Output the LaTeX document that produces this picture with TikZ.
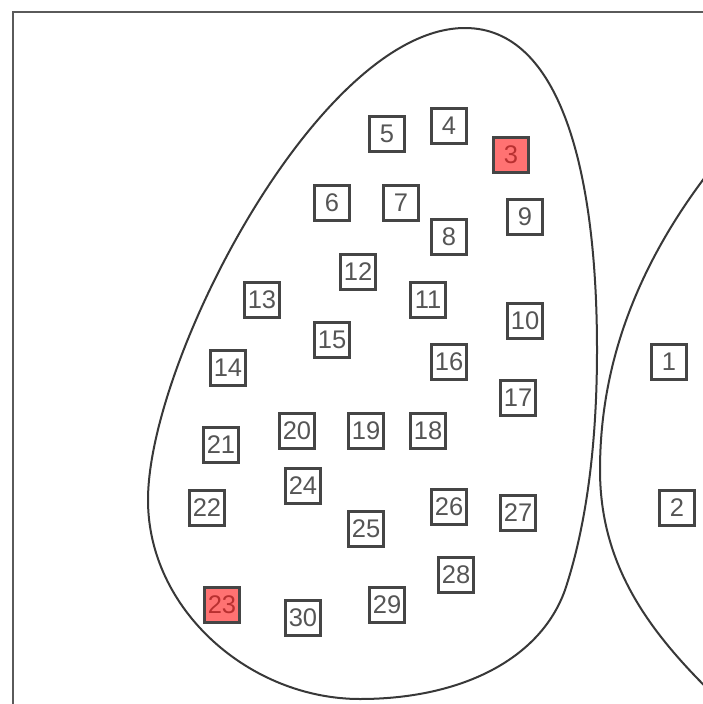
\documentclass[tikz,border=0pt]{standalone}
\usepackage{fontspec}
\setmainfont{Liberation Sans}
\definecolor{boxline}{HTML}{454545}
\definecolor{boxtext}{HTML}{555555}
\definecolor{blobline}{HTML}{383838}
\definecolor{frameline}{HTML}{5A5A5A}
\definecolor{redfill}{HTML}{FF7272}
\definecolor{redtext}{HTML}{B83030}
\tikzset{
  nbox/.style={draw=boxline, line width=2.2pt, fill=white, text=boxtext,
    minimum width=35pt, minimum height=35pt, inner sep=0pt,
    font=\fontsize{25.5}{25.5}\selectfont},
  redbox/.style={nbox, fill=redfill, text=redtext},
  blob/.style={draw=blobline, line width=2pt}
}
\begin{document}
\begin{tikzpicture}[x=1pt,y=-1pt]
\useasboundingbox (0,0) rectangle (703,704);
\clip (0,0) rectangle (703,704);
\fill[white] (0,0) rectangle (703,704);
% frame
\draw[frameline, line width=2.5pt] (13,12) rectangle (780,780);
% left blob
\draw[blob] (465,28) .. controls (560,28) and (597,170) .. (597,350)
  .. controls (597,450) and (585,530) .. (565,590)
  .. controls (540,660) and (460,699) .. (360,699)
  .. controls (250,699) and (148,610) .. (148,500)
  .. controls (148,360) and (320,28) .. (465,28) -- cycle;
% right blob
\draw[blob] (735,140) .. controls (640,250) and (600,360) .. (600,470)
  .. controls (600,580) and (665,650) .. (740,720);
% nodes
\node[nbox] (n1) at (669,362) {1};
\node[nbox] (n2) at (677,508) {2};
\node[redbox] (n3) at (511,155) {3};
\node[nbox] (n4) at (449,126) {4};
\node[nbox] (n5) at (387,134) {5};
\node[nbox] (n6) at (332,203) {6};
\node[nbox] (n7) at (401,203) {7};
\node[nbox] (n8) at (449,237) {8};
\node[nbox] (n9) at (525,217) {9};
\node[nbox] (n10) at (525,321) {10};
\node[nbox] (n11) at (428,300) {11};
\node[nbox] (n12) at (358,272) {12};
\node[nbox] (n13) at (262,300) {13};
\node[nbox] (n14) at (228,368) {14};
\node[nbox] (n15) at (332,340) {15};
\node[nbox] (n16) at (449,362) {16};
\node[nbox] (n17) at (518,398) {17};
\node[nbox] (n18) at (428,431) {18};
\node[nbox] (n19) at (366,431) {19};
\node[nbox] (n20) at (297,431) {20};
\node[nbox] (n21) at (221,445) {21};
\node[nbox] (n22) at (207,508) {22};
\node[redbox] (n23) at (222,605) {23};
\node[nbox] (n24) at (303,486) {24};
\node[nbox] (n25) at (366,529) {25};
\node[nbox] (n26) at (449,507) {26};
\node[nbox] (n27) at (518,513) {27};
\node[nbox] (n28) at (456,575) {28};
\node[nbox] (n29) at (387,605) {29};
\node[nbox] (n30) at (303,618) {30};
\end{tikzpicture}
\end{document}
